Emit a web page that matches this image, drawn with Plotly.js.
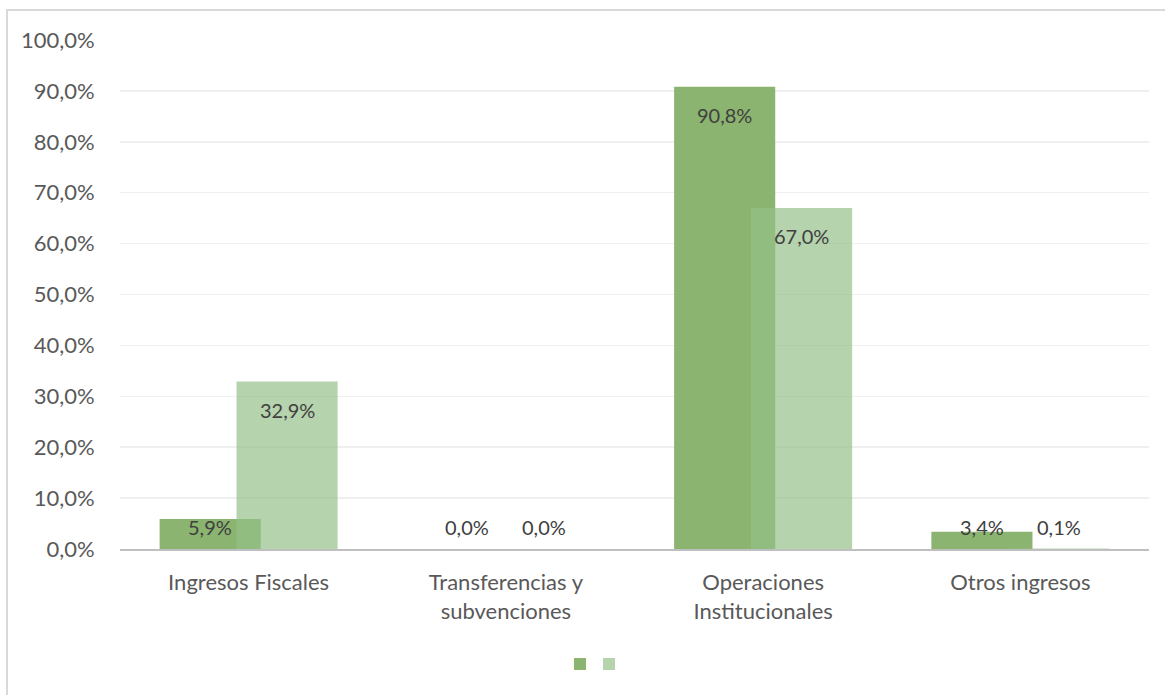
<!DOCTYPE html>
<html>
<head>
<meta charset="utf-8">
<script src="https://cdn.plot.ly/plotly-3.0.1.min.js"></script>
<style>
html,body{margin:0;padding:0;background:#fff;overflow:hidden;}
#frame{position:absolute;left:6px;top:9px;width:1300px;height:800px;border:2px solid #d9d9d9;pointer-events:none;z-index:2;}
#chart{position:absolute;left:0;top:0;width:1165px;height:695px;}
</style>
</head>
<body>
<div id="chart"></div>
<div id="frame"></div>
<script>
// Data
const categories = ['Ingresos Fiscales', 'Transferencias y<br>subvenciones', 'Operaciones<br>Institucionales', 'Otros ingresos'];
const series1 = [5.9, 0.0, 90.8, 3.4];
const series2 = [32.9, 0.0, 67.0, 0.1];
const yTicks = [0, 10, 20, 30, 40, 50, 60, 70, 80, 90, 100];

const color1 = 'rgb(138,180,111)';
const color2 = 'rgba(150,192,137,0.7)';
const barWidth = 0.393;
const offsets = [-0.346, -0.047];

const idx = categories.map((c, i) => i);

const traces = [
  {type: 'bar', x: idx, y: series1, name: ' ', width: barWidth, offset: offsets[0],
   marker: {color: color1}, hoverinfo: 'skip', legend: 'legend'},
  {type: 'bar', x: idx, y: series2, name: ' ', width: barWidth, offset: offsets[1],
   marker: {color: color2}, hoverinfo: 'skip', legend: 'legend2'}
];

const plotH = 509;
const pxPerUnit = plotH / 100;
const fmt = v => v.toFixed(1).replace('.', ',') + '%';
const annotations = [];
[series1, series2].forEach((s, k) => {
  s.forEach((v, i) => {
    const big = v * pxPerUnit > 50;
    annotations.push({
      x: i + offsets[k] + barWidth / 2, y: big ? v : 0,
      xref: 'x', yref: 'y', text: fmt(v), showarrow: false,
      yanchor: 'middle', yshift: big ? -28 : 22,
      font: {family: 'Lato, sans-serif', size: 20, color: '#404040'}
    });
  });
});

const legendBase = {orientation: 'h', xanchor: 'left', y: -0.226, yanchor: 'middle',
                    itemwidth: 30, font: {size: 10}, bgcolor: 'rgba(0,0,0,0)'};

const layout = {
  width: 1165, height: 695,
  margin: {l: 120, r: 16, t: 40, b: 146},
  paper_bgcolor: '#ffffff', plot_bgcolor: '#ffffff',
  separators: ',.',
  barmode: 'overlay',
  showlegend: true,
  legend: Object.assign({}, legendBase, {x: 0.4276}),
  legend2: Object.assign({}, legendBase, {x: 0.4558}),
  xaxis: {
    tickmode: 'array', tickvals: idx, ticktext: categories,
    range: [-0.5, categories.length - 0.5],
    showgrid: false, zeroline: false,
    showline: true, linecolor: '#bfbfbf', linewidth: 2,
    ticks: 'outside', ticklen: 13, tickcolor: 'rgba(0,0,0,0)',
    tickfont: {family: 'Lato, sans-serif', size: 22, color: '#595959'}
  },
  yaxis: {
    range: [0, 100], tickmode: 'array', tickvals: yTicks,
    ticktext: yTicks.map(fmt),
    showgrid: true, gridcolor: '#efefef', gridwidth: 1.5,
    zeroline: false, showline: false,
    ticks: 'outside', ticklen: 20, tickcolor: 'rgba(0,0,0,0)',
    tickfont: {family: 'Lato, sans-serif', size: 22, color: '#595959'}
  },
  annotations: annotations
};

Plotly.newPlot('chart', traces, layout, {displayModeBar: false, staticPlot: true});
</script>
</body>
</html>
